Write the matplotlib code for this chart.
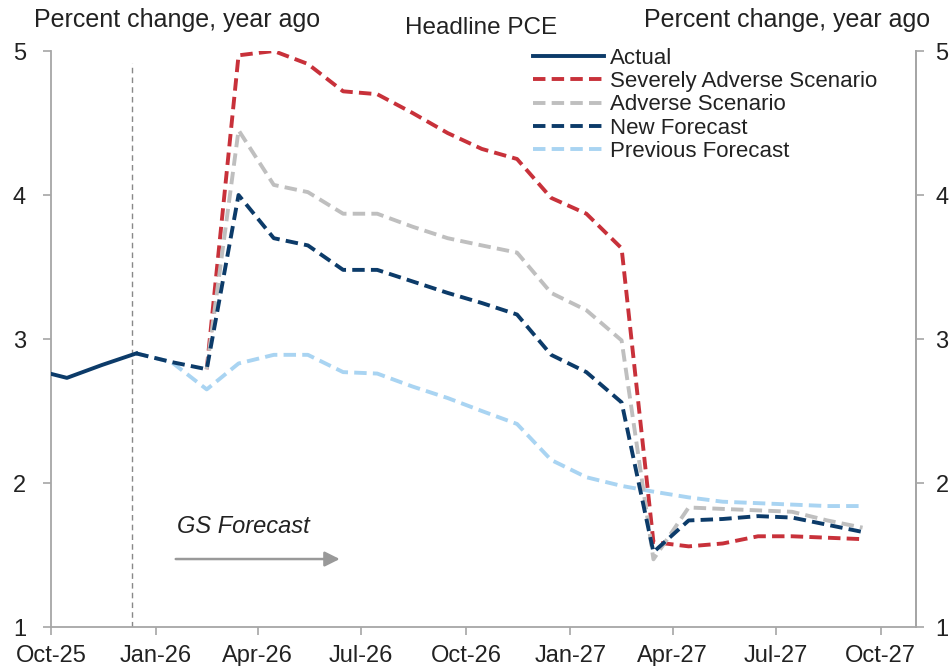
import numpy as np
import pandas as pd
import matplotlib
matplotlib.use("Agg")
import matplotlib.pyplot as plt
import matplotlib.dates as mdates

plt.rcParams['font.family'] = ['Liberation Sans', 'DejaVu Sans']

# monthly points, plotted mid-month: Sep-25 ... Sep-27
months = pd.date_range("2025-09-01", "2027-09-01", freq="MS") + pd.Timedelta(days=14)
nan = np.nan

actual = [2.79, 2.73, 2.82, 2.90] + [nan] * 21
severe = [nan] * 5 + [2.79, 4.97, 5.00, 4.91, 4.72, 4.70, 4.57, 4.43, 4.32, 4.25,
                      3.98, 3.87, 3.63, 1.59, 1.56, 1.58, 1.63, 1.63, 1.62, 1.61]
adverse = [nan] * 5 + [2.79, 4.45, 4.07, 4.02, 3.87, 3.87, 3.78, 3.70, 3.65, 3.60,
                       3.32, 3.20, 2.99, 1.47, 1.83, 1.82, 1.81, 1.80, 1.74, 1.69]
new_fc = [nan] * 3 + [2.90, 2.84, 2.79, 4.00, 3.70, 3.65, 3.48, 3.48, 3.40, 3.32, 3.25, 3.17,
                      2.89, 2.77, 2.56, 1.52, 1.74, 1.75, 1.77, 1.76, 1.71, 1.66]
prev_fc = [nan] * 3 + [2.90, 2.84, 2.65, 2.83, 2.89, 2.89, 2.77, 2.76, 2.67, 2.59, 2.50, 2.41,
                       2.16, 2.04, 1.98, 1.94, 1.90, 1.87, 1.86, 1.85, 1.84, 1.84]
yticks = [1, 2, 3, 4, 5]

navy = "#0c3b69"
red = "#c8313a"
grey = "#bfbfbf"
lblue = "#a9d4f2"
txt = "#222222"
axcol = "#a6a6a6"

fig = plt.figure(figsize=(9.51, 6.66), dpi=100)
ax = fig.add_axes([51 / 951, 39 / 666, 865 / 951, 576 / 666])

lw = 2.8
dash = (3.2, 1.6)
ax.plot(months, prev_fc, color=lblue, lw=lw, ls="--", dashes=dash, label="Previous Forecast", zorder=2)
ax.plot(months, severe, color=red, lw=lw, ls="--", dashes=dash, label="Severely Adverse Scenario", zorder=3)
ax.plot(months, adverse, color=grey, lw=lw, ls="--", dashes=dash, label="Adverse Scenario", zorder=4)
ax.plot(months, new_fc, color=navy, lw=lw, ls="--", dashes=dash, label="New Forecast", zorder=5)
ax.plot(months, actual, color=navy, lw=lw, label="Actual", zorder=6)

ax.axvline(pd.Timestamp("2025-12-11"), ymin=0, ymax=0.98, color="#888888", lw=1.0,
           ls=(0, (4, 3)), zorder=1)

ax.set_xlim(pd.Timestamp("2025-10-01"), pd.Timestamp("2027-11-01"))
ax.set_ylim(1, 5)
ax.set_yticks(yticks)
ax.xaxis.set_major_locator(mdates.MonthLocator(bymonth=[1, 4, 7, 10]))
ax.xaxis.set_major_formatter(mdates.DateFormatter("%b-%y"))

for s in ["left", "right", "bottom"]:
    ax.spines[s].set_color(axcol)
    ax.spines[s].set_linewidth(1.3)
ax.spines["top"].set_visible(False)
ax.tick_params(axis="y", direction="out", length=6, width=1.2, color=axcol,
               labelsize=17, labelcolor=txt, pad=12)
ax.tick_params(axis="x", direction="out", length=6, width=1.2, color=axcol,
               labelsize=17, labelcolor=txt, pad=7)

# right-hand axis, same scale
sec = ax.secondary_yaxis("right")
sec.set_yticks(yticks)
sec.spines["right"].set_color(axcol)
sec.spines["right"].set_linewidth(1.3)
sec.tick_params(direction="out", length=6, width=1.2, color=axcol,
                labelsize=17, labelcolor=txt, pad=8)

# GS forecast annotation
ax.text(0.2225, 0.174, "GS Forecast", transform=ax.transAxes, ha="center", va="center",
        fontsize=17, style="italic", color=txt)
ax.annotate("", xy=(0.337, 0.118), xytext=(0.141, 0.118), xycoords="axes fraction",
            arrowprops=dict(arrowstyle="-|>,head_length=0.9,head_width=0.45", color="#999999", lw=1.8))

fig.text(177 / 951, 1 - 20 / 666, "Percent change, year ago", ha="center", va="center",
         fontsize=18, color=txt)
fig.text(787 / 951, 1 - 20 / 666, "Percent change, year ago", ha="center", va="center",
         fontsize=18, color=txt)
fig.text(481 / 951, 1 - 28 / 666, "Headline PCE", ha="center", va="center",
         fontsize=17.5, color=txt)

h, l = ax.get_legend_handles_labels()
order = ["Actual", "Severely Adverse Scenario", "Adverse Scenario", "New Forecast", "Previous Forecast"]
hd = dict(zip(l, h))
leg = ax.legend([hd[k] for k in order], order, loc="upper left",
                bbox_to_anchor=(533 / 951, 1 - 48 / 666), bbox_transform=fig.transFigure,
                frameon=False, fontsize=16, handlelength=3.2, handletextpad=0.28,
                labelspacing=0.1, borderpad=0, borderaxespad=0)
for t in leg.get_texts():
    t.set_color(txt)

fig.savefig("out.png", dpi=100, facecolor="white")
